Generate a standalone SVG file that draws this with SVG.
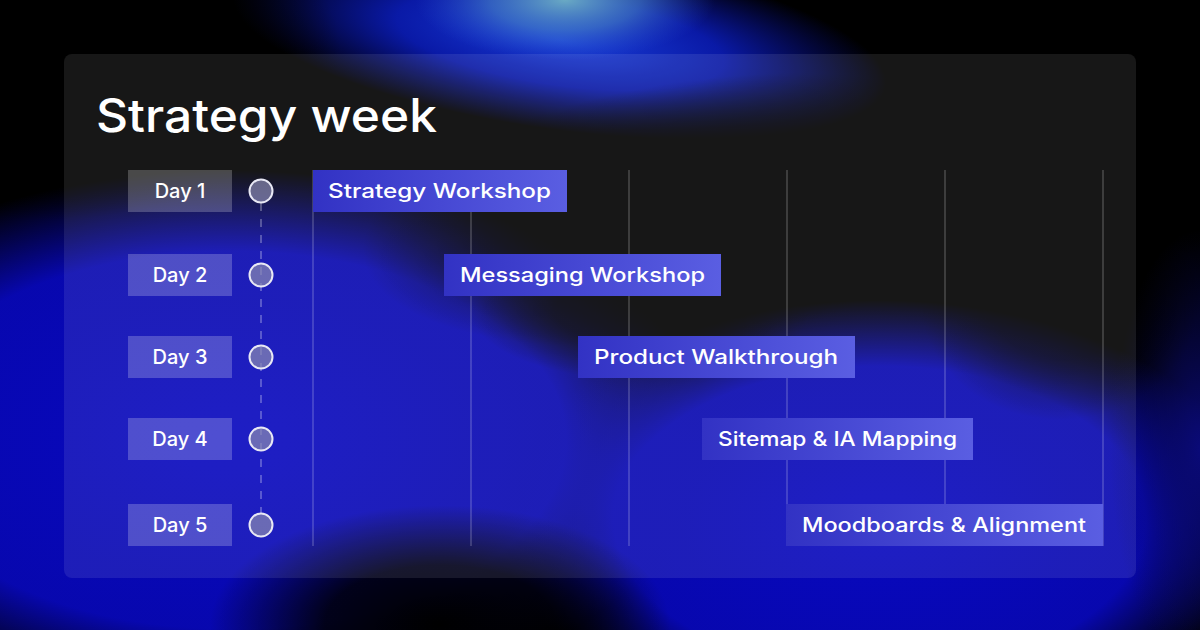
<svg xmlns="http://www.w3.org/2000/svg" width="1200" height="630" viewBox="0 0 1200 630">
  <defs>
    <radialGradient id="gBlue">
      <stop offset="0" stop-color="#0808c0" stop-opacity="1"/>
      <stop offset="0.7" stop-color="#0808b8" stop-opacity="0.95"/>
      <stop offset="1" stop-color="#0808b0" stop-opacity="0"/>
    </radialGradient>
    <radialGradient id="gTop">
      <stop offset="0" stop-color="#1a40d8" stop-opacity="1"/>
      <stop offset="0.5" stop-color="#0c20d0" stop-opacity="0.8"/>
      <stop offset="1" stop-color="#0a14c8" stop-opacity="0"/>
    </radialGradient>
    <radialGradient id="gCyan">
      <stop offset="0" stop-color="#6aaac4" stop-opacity="1"/>
      <stop offset="0.5" stop-color="#4a88c8" stop-opacity="0.6"/>
      <stop offset="1" stop-color="#2a50d0" stop-opacity="0"/>
    </radialGradient>
    <radialGradient id="gNavy">
      <stop offset="0" stop-color="#0a0a78" stop-opacity="1"/>
      <stop offset="1" stop-color="#0a0a60" stop-opacity="0"/>
    </radialGradient>
    <radialGradient id="gDark">
      <stop offset="0" stop-color="#000" stop-opacity="1"/>
      <stop offset="0.5" stop-color="#000" stop-opacity="0.85"/>
      <stop offset="1" stop-color="#000" stop-opacity="0"/>
    </radialGradient>
    <linearGradient id="bar" x1="0" y1="0" x2="1" y2="0">
      <stop offset="0" stop-color="#3232c4"/>
      <stop offset="1" stop-color="#5a5ee2"/>
    </linearGradient>
    <style>
      .day rect { fill: #ffffff; fill-opacity: 0.22; }
      .txt { font-family: Inter, "Liberation Sans", sans-serif; fill: #ffffff; font-size: 20px; font-weight: 500; }
      .day text { text-anchor: middle; }
      .dot { fill: #8a8ab0; fill-opacity: 0.7; stroke: #e8e8f4; stroke-width: 2; }
      .grid line { stroke: #ffffff; stroke-opacity: 0.22; stroke-width: 1.5; }
      .bar rect { fill: url(#bar); }
    </style>
  </defs>

  <!-- background -->
  <rect width="1200" height="630" fill="#000"/>
  <ellipse cx="230" cy="440" rx="480" ry="270" fill="url(#gBlue)"/>
  <ellipse cx="880" cy="520" rx="380" ry="220" fill="url(#gBlue)"/>
  <ellipse cx="1200" cy="450" rx="90" ry="220" fill="url(#gNavy)"/>
  <ellipse cx="560" cy="40" rx="330" ry="90" fill="url(#gTop)" transform="rotate(8 560 40)"/>
  <ellipse cx="565" cy="0" rx="150" ry="60" fill="url(#gCyan)"/>
  <ellipse cx="700" cy="210" rx="340" ry="130" fill="url(#gDark)" transform="rotate(-8 700 210)"/>
  <ellipse cx="640" cy="310" rx="170" ry="70" fill="url(#gDark)" opacity="0.8"/>
  <ellipse cx="440" cy="625" rx="230" ry="120" fill="url(#gDark)"/>
  <ellipse cx="1150" cy="90" rx="260" ry="170" fill="url(#gDark)"/>
  <ellipse cx="40" cy="50" rx="300" ry="170" fill="url(#gDark)"/>
  <ellipse cx="1060" cy="300" rx="140" ry="120" fill="url(#gDark)" opacity="0.6"/>

  <!-- panel -->
  <rect id="panel" x="64" y="54" width="1072" height="524" rx="8" fill="#ffffff" fill-opacity="0.09"/>

  <text id="title" x="96" y="132" font-family="Inter, 'Liberation Sans', sans-serif" font-size="46" font-weight="500" fill="#ffffff" textLength="341" lengthAdjust="spacingAndGlyphs">Strategy week</text>

  <!-- connectors / grid -->
  <g id="connectors">
    <g class="grid">
      <line x1="313" y1="170" x2="313" y2="546"/>
      <line x1="471" y1="170" x2="471" y2="546"/>
      <line x1="629" y1="170" x2="629" y2="546"/>
      <line x1="787" y1="170" x2="787" y2="546"/>
      <line x1="945" y1="170" x2="945" y2="546"/>
      <line x1="1103" y1="170" x2="1103" y2="546"/>
    </g>
    <line x1="261" y1="203" x2="261" y2="513" stroke="#ffffff" stroke-opacity="0.35" stroke-width="1.5" stroke-dasharray="8 8"/>
  </g>

  <!-- day labels -->
  <g id="day1" class="day"><rect x="128" y="170" width="104" height="42"/><text class="txt" x="180" y="198">Day 1</text><circle class="dot" cx="261" cy="191" r="11.5"/></g>
  <g id="day2" class="day"><rect x="128" y="254" width="104" height="42"/><text class="txt" x="180" y="282">Day 2</text><circle class="dot" cx="261" cy="275" r="11.5"/></g>
  <g id="day3" class="day"><rect x="128" y="336" width="104" height="42"/><text class="txt" x="180" y="364">Day 3</text><circle class="dot" cx="261" cy="357" r="11.5"/></g>
  <g id="day4" class="day"><rect x="128" y="418" width="104" height="42"/><text class="txt" x="180" y="446">Day 4</text><circle class="dot" cx="261" cy="439" r="11.5"/></g>
  <g id="day5" class="day"><rect x="128" y="504" width="104" height="42"/><text class="txt" x="180" y="532">Day 5</text><circle class="dot" cx="261" cy="525" r="11.5"/></g>

  <!-- bars -->
  <g id="task1" class="bar"><rect x="313" y="170" width="254" height="42"/><text class="txt" x="328" y="198" textLength="223" lengthAdjust="spacingAndGlyphs">Strategy Workshop</text></g>
  <g id="task2" class="bar"><rect x="444" y="254" width="277" height="42"/><text class="txt" x="460" y="282" textLength="245" lengthAdjust="spacingAndGlyphs">Messaging Workshop</text></g>
  <g id="task3" class="bar"><rect x="578" y="336" width="277" height="42"/><text class="txt" x="594" y="364" textLength="244" lengthAdjust="spacingAndGlyphs">Product Walkthrough</text></g>
  <g id="task4" class="bar"><rect x="702" y="418" width="271" height="42"/><text class="txt" x="718" y="446" textLength="239" lengthAdjust="spacingAndGlyphs">Sitemap &amp; IA Mapping</text></g>
  <g id="task5" class="bar"><rect x="786" y="504" width="317" height="42"/><text class="txt" x="802" y="532" textLength="284" lengthAdjust="spacingAndGlyphs">Moodboards &amp; Alignment</text></g>
</svg>
